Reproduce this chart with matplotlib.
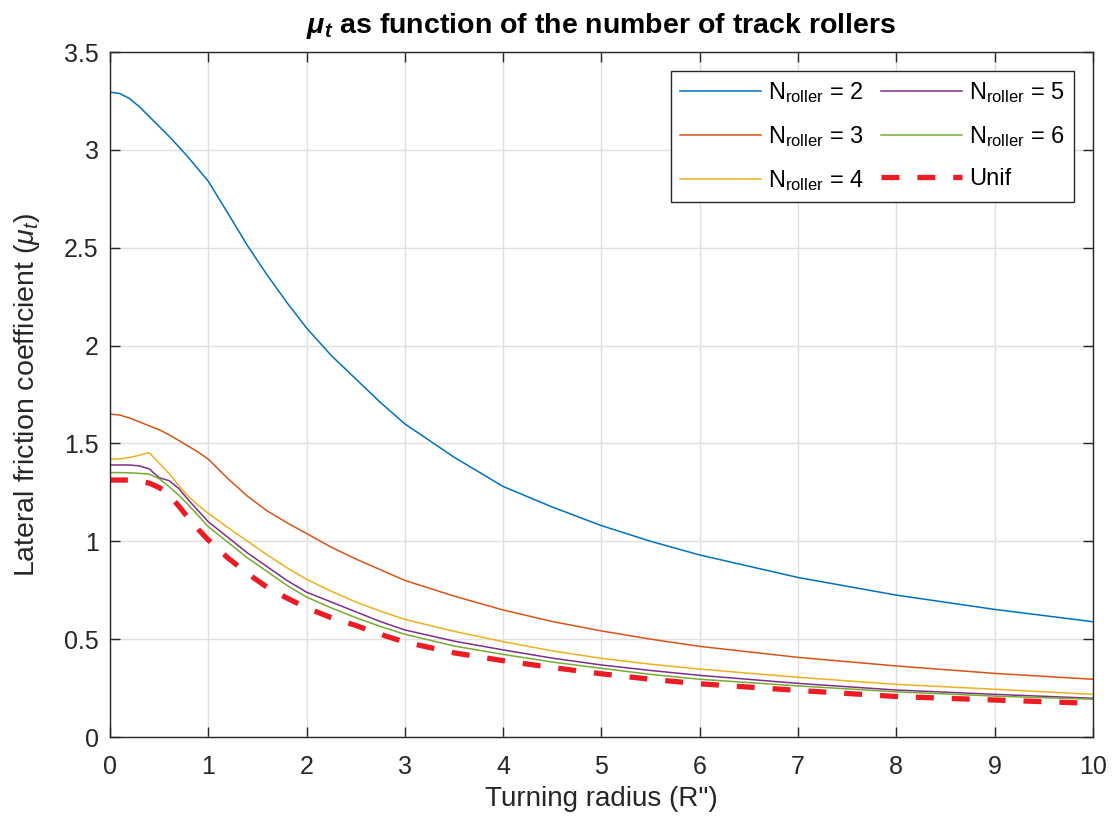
import matplotlib
matplotlib.use("Agg")
import matplotlib.pyplot as plt

plt.rcParams['font.family'] = ['Liberation Sans', 'DejaVu Sans']
plt.rcParams['mathtext.fontset'] = 'custom'
plt.rcParams['mathtext.rm'] = 'Liberation Sans'
plt.rcParams['mathtext.it'] = 'Liberation Sans:italic'
plt.rcParams['mathtext.bf'] = 'Liberation Sans:italic:bold'

# turning radius samples
radius = [0, 0.1, 0.2, 0.3, 0.4, 0.5, 0.6, 0.7, 0.8, 0.9, 1.0, 1.2, 1.4, 1.6, 1.8,
          2.0, 2.25, 2.5, 2.75, 3.0, 3.5, 4, 4.5, 5, 5.5, 6, 7, 8, 9, 10]

mu_n2 = [3.295, 3.288, 3.262, 3.22, 3.17, 3.12, 3.07, 3.016, 2.96, 2.90, 2.84,
         2.676, 2.51, 2.36, 2.22, 2.09, 1.95, 1.83, 1.71, 1.60, 1.43, 1.28, 1.175,
         1.08, 1.0, 0.93, 0.815, 0.725, 0.652, 0.589]
mu_n3 = [1.65, 1.645, 1.63, 1.61, 1.59, 1.57, 1.545, 1.515, 1.485, 1.455, 1.42,
         1.32, 1.23, 1.155, 1.095, 1.04, 0.97, 0.91, 0.855, 0.80, 0.72, 0.649, 0.59,
         0.542, 0.50, 0.463, 0.407, 0.363, 0.325, 0.295]
mu_n4 = [1.419, 1.421, 1.428, 1.44, 1.453, 1.40, 1.347, 1.285, 1.228, 1.183, 1.143,
         1.07, 1.0, 0.93, 0.865, 0.806, 0.745, 0.69, 0.643, 0.601, 0.54, 0.487, 0.44,
         0.402, 0.372, 0.347, 0.305, 0.269, 0.244, 0.218]
mu_n5 = [1.39, 1.39, 1.39, 1.385, 1.37, 1.325, 1.31, 1.27, 1.21, 1.155, 1.10,
         1.02, 0.94, 0.87, 0.80, 0.74, 0.69, 0.64, 0.59, 0.547, 0.49, 0.445, 0.403,
         0.368, 0.34, 0.315, 0.274, 0.240, 0.218, 0.198]
mu_n6 = [1.351, 1.351, 1.35, 1.347, 1.343, 1.32, 1.28, 1.235, 1.185, 1.13, 1.075,
         0.995, 0.915, 0.845, 0.775, 0.715, 0.66, 0.61, 0.565, 0.525, 0.465, 0.422, 0.383,
         0.351, 0.32, 0.295, 0.261, 0.231, 0.209, 0.193]
mu_unif = [1.313, 1.313, 1.313, 1.308, 1.297, 1.275, 1.237, 1.18, 1.117, 1.06, 1.007,
           0.915, 0.835, 0.765, 0.71, 0.66, 0.61, 0.57, 0.525, 0.485, 0.43, 0.39, 0.355,
           0.323, 0.295, 0.272, 0.238, 0.207, 0.189, 0.172]

labels = [r'N$_{\mathrm{roller}}$ = 2', r'N$_{\mathrm{roller}}$ = 3', r'N$_{\mathrm{roller}}$ = 4',
          r'N$_{\mathrm{roller}}$ = 5', r'N$_{\mathrm{roller}}$ = 6', 'Unif']

colors = [(0, 0.447, 0.741), (0.85, 0.325, 0.098), (0.929, 0.694, 0.125),
          (0.494, 0.184, 0.556), (0.466, 0.674, 0.188)]

axcol = (0.15, 0.15, 0.15)

fig = plt.figure(figsize=(11.13, 8.22), dpi=100)
ax = fig.add_axes([0.0988, 0.1034, 0.8832, 0.8333])

series = [mu_n2, mu_n3, mu_n4, mu_n5, mu_n6]
for s, c, lab in zip(series, colors, labels[:5]):
    ax.plot(radius, s, color=c, lw=1.1, label=lab)
ax.plot(radius, mu_unif, color=(0.93, 0.11, 0.14), lw=3.8, ls=(0, (3.4, 3.4)), label=labels[5])

ax.set_xlim(0, 10)
ax.set_ylim(0, 3.5)
ax.set_xticks(range(0, 11))
ax.set_yticks([0, 0.5, 1, 1.5, 2, 2.5, 3, 3.5])
ax.set_yticklabels(['0', '0.5', '1', '1.5', '2', '2.5', '3', '3.5'])
ax.grid(True, color=(0.88, 0.88, 0.88), lw=1)
ax.set_axisbelow(True)
ax.tick_params(direction='in', length=7, width=1, colors=axcol, labelsize=18,
               top=True, right=True, labelcolor=axcol)
ax.tick_params(axis='x', pad=13)
ax.tick_params(axis='y', pad=8)
for sp in ax.spines.values():
    sp.set_color(axcol)
    sp.set_linewidth(1)

ax.set_xlabel("Turning radius (R\")", fontsize=20, color=axcol, labelpad=5)
ax.set_ylabel(r'Lateral friction coefficient ($\mu_t$)', fontsize=20.5, color=axcol, labelpad=16)
ax.set_title(r'$\mathbf{\mu_t}$ as function of the number of track rollers',
             fontsize=20.5, fontweight='bold', color='black', pad=14)

leg = ax.legend(ncol=2, loc='upper right', fontsize=17, handlelength=3.4,
                handletextpad=0.3, columnspacing=0.75, labelspacing=0.8,
                borderaxespad=0.8, fancybox=False, framealpha=1)
leg.get_frame().set_edgecolor(axcol)
leg.get_frame().set_linewidth(1)

fig.savefig("out.png", dpi=100)
